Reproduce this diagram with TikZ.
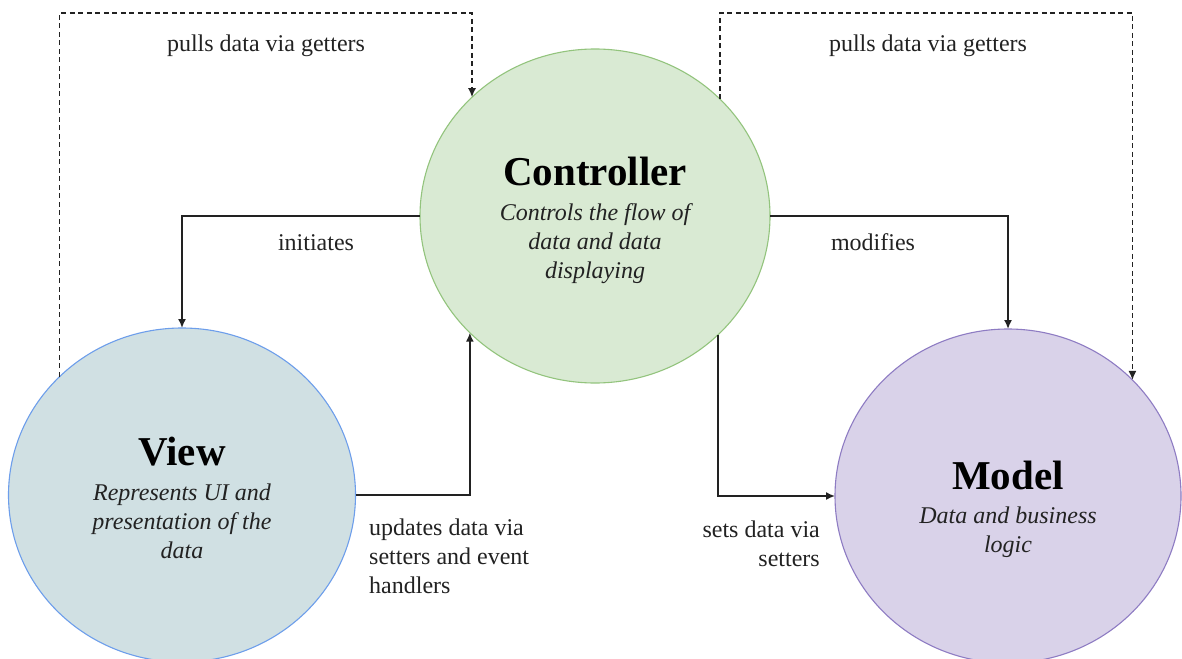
\documentclass[tikz,border=0pt]{standalone}
\usepackage{fontspec}
\setmainfont{Liberation Serif}
\usetikzlibrary{shapes.geometric,arrows.meta}
\definecolor{ctrlfill}{HTML}{D9EAD3}
\definecolor{ctrlline}{HTML}{93C47D}
\definecolor{viewfill}{HTML}{D0E0E3}
\definecolor{viewline}{HTML}{6D9EEB}
\definecolor{modelfill}{HTML}{D9D2E9}
\definecolor{modelline}{HTML}{8E7CC3}
\definecolor{ink}{HTML}{222222}
\tikzset{
  blob/.style={ellipse, outer sep=0pt, inner sep=0pt, line width=1.1pt},
  titletext/.style={font=\fontsize{41}{49}\selectfont\bfseries, text=black, inner sep=0pt, anchor=base},
  desctext/.style={font=\fontsize{24}{29}\selectfont\itshape, text=ink, inner sep=0pt, align=center, anchor=base},
  lbl/.style={font=\fontsize{24}{29}\selectfont, text=ink, inner sep=0pt, anchor=base},
  conn/.style={line width=1.6pt, draw=ink, -{Latex[length=9pt,width=8pt]}},
  dconn/.style={conn, dash pattern=on 5pt off 3.5pt}
}
\begin{document}
\begin{tikzpicture}[x=1pt,y=-1pt]
\useasboundingbox[fill=white] (0,0) rectangle (1182,658);
% ellipses
\node[blob, fill=ctrlfill, draw=ctrlline, minimum width=350pt, minimum height=334pt] (ctrl) at (595,216) {};
\node[blob, fill=viewfill, draw=viewline, minimum width=347pt, minimum height=334pt] (view) at (182,495) {};
\node[blob, fill=modelfill, draw=modelline, minimum width=346pt, minimum height=334pt] (model) at (1008,496) {};
% texts inside (multi-line nodes: base = last line)
\node[titletext] (ctrlT) at (595,185) {Controller};
\node[desctext] (ctrlD) at (595,278) {Controls the flow of\\data and data\\displaying};
\node[titletext] (viewT) at (182,465) {View};
\node[desctext] (viewD) at (182,558) {Represents UI and\\presentation of the\\data};
\node[titletext] (modelT) at (1008,489) {Model};
\node[desctext] (modelD) at (1008,552) {Data and business\\logic};
% helper coordinates
\coordinate (topline) at (0,13);
% connectors
\draw[dconn] (view.136.4) -- (view.136.4 |- topline) -| (ctrl.136.4);
\draw[dconn] (ctrl.43.8) -- (ctrl.43.8 |- topline) -| (model.43.6);
\draw[conn] (ctrl.west) -| (view.north);
\draw[conn] (ctrl.east) -| (model.north);
\draw[conn] (view.east) -| (ctrl.223.6);
\draw[conn] (ctrl.316.2) |- (model.west);
% labels
\node[lbl] (pullL) at (266,52) {pulls data via getters};
\node[lbl] (pullR) at (928,52) {pulls data via getters};
\node[lbl] (init) at (316,250) {initiates};
\node[lbl] (modif) at (873,250) {modifies};
\node[lbl, align=left, anchor=base west] (upd) at (369,593) {updates data via\\setters and event\\handlers};
\node[lbl, align=right, anchor=base east] (sets) at (820,566) {sets data via\\setters};
\end{tikzpicture}
\end{document}
